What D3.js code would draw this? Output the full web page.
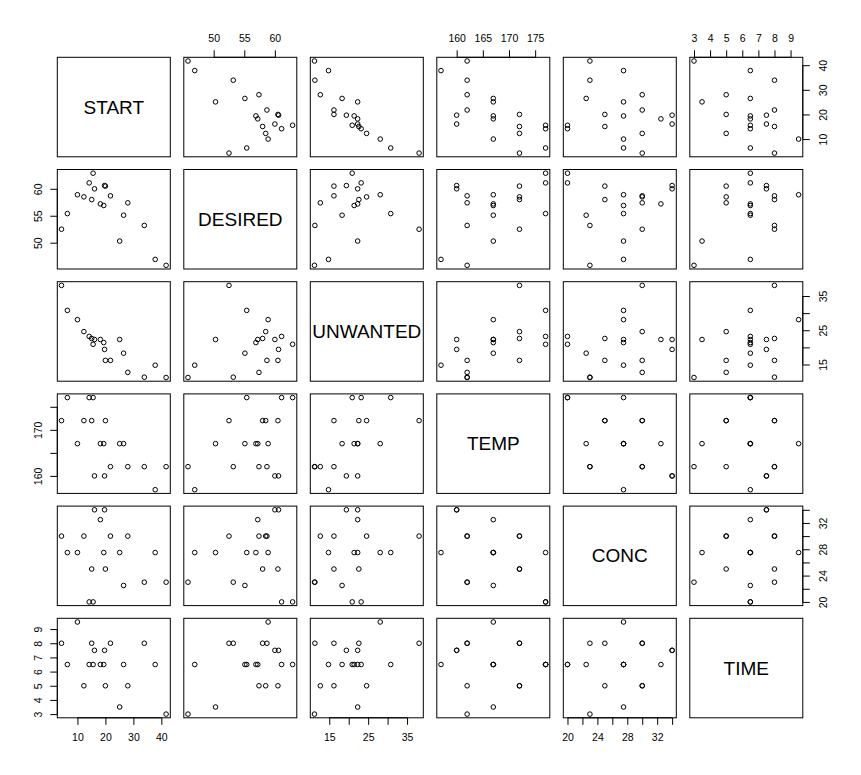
<!DOCTYPE html>
<html><head><meta charset="utf-8">
<script src="https://cdn.jsdelivr.net/npm/d3@7"></script>
<style>
body{margin:0;background:#fff}
text{font-family:"Liberation Sans",Arial,sans-serif;fill:#000}
</style>
</head><body>
<svg id="c" width="861" height="775"></svg>
<script>
const variables = ["START","DESIRED","UNWANTED","TEMP","CONC","TIME"];
const start    = [4.3, 6.4, 10.0, 12.3, 14.2, 15.1, 15.6, 16.1, 18.2, 19.4, 19.7, 20.0, 21.8, 25.1, 26.5, 28.0, 33.9, 37.8, 41.7];
const desired  = [52.5, 55.4, 58.9, 58.5, 61.1, 58.0, 62.9, 60.0, 57.2, 56.9, 60.6, 60.5, 58.7, 50.3, 55.1, 57.4, 53.2, 46.9, 45.8];
const unwanted = [38.1, 30.8, 28.1, 24.6, 23.2, 22.6, 20.9, 22.3, 22.3, 21.4, 19.4, 16.2, 16.2, 22.3, 18.3, 12.7, 11.3, 14.8, 11.2];
const temp     = [172, 177, 167, 172, 177, 172, 177, 160, 167, 167, 160, 172, 162, 167, 167, 162, 162, 157, 162];
const conc     = [30, 27.5, 27.5, 30, 20, 25, 20, 34, 32.5, 27.5, 34, 25, 30, 27.5, 22.5, 30, 23, 27.5, 23];
const time     = [8, 6.5, 9.5, 5, 6.5, 8, 6.5, 7.5, 6.5, 6.5, 7.5, 5, 8, 3.5, 6.5, 5, 8, 6.5, 3];

const startTicks    = [10,20,30,40];
const desiredTicks  = [50,55,60];
const unwantedTicks = [15,20,25,30,35];
const tempTicks     = [160,165,170,175];
const concTicks     = [20,22,24,26,28,30,32,34];
const timeTicks     = [3,4,5,6,7,8,9];

const topLabels    = {1:[50,55,60], 3:[160,165,170,175], 5:[3,4,5,6,7,8,9]};
const bottomLabels = {0:[10,20,30,40], 2:[15,25,35], 4:[20,24,28,32]};
const leftLabels   = {1:[50,55,60], 3:[160,170], 5:[3,4,5,6,7,8,9]};
const rightLabels  = {0:[10,20,30,40], 2:[15,25,35], 4:[20,24,28,32]};

const series = [start, desired, unwanted, temp, conc, time];
const ticks = [startTicks, desiredTicks, unwantedTicks, tempTicks, concTicks, timeTicks];

const left0 = 57.3, top0 = 57.3, pw = 113, ph = 99.5, stepX = 126.5, stepY = 112.2;
const n = variables.length;

function padded(arr){
  const [a,b] = d3.extent(arr); const p = (b-a)*0.04; return [a-p, b+p];
}
const xs = series.map(s => d3.scaleLinear().domain(padded(s)).range([0, pw]));
const ys = series.map(s => d3.scaleLinear().domain(padded(s)).range([ph, 0]));

const svg = d3.select("#c");
const fs = 10.5;

for (let i = 0; i < n; i++) {
  for (let j = 0; j < n; j++) {
    const gx = left0 + j*stepX, gy = top0 + i*stepY;
    const g = svg.append("g").attr("transform", `translate(${gx},${gy})`);
    g.append("rect").attr("x",0).attr("y",0).attr("width",pw).attr("height",ph)
      .attr("fill","none").attr("stroke","#000").attr("stroke-width",1);
    if (i === j) {
      g.append("text").attr("x", pw/2).attr("y", ph/2).attr("text-anchor","middle")
        .attr("dominant-baseline","central").style("font-size","19px").text(variables[i]);
    } else {
      g.selectAll("circle").data(d3.range(series[i].length)).join("circle")
        .attr("cx", k => xs[j](series[j][k])).attr("cy", k => ys[i](series[i][k]))
        .attr("r", 2.3).attr("fill","none").attr("stroke","#000").attr("stroke-width",1);
    }
  }
}

function fmt(labels){ return d => labels.includes(d) ? String(d) : ""; }
function finish(ax, vertical, offset, scale, tv){
  ax.select(".domain").remove();
  ax.selectAll(".tick line").attr("stroke","#000");
  ax.selectAll("text").style("font-size", fs+"px").attr("fill","#000");
  const t = tv;
  if (vertical) {
    ax.append("line").attr("x1",0).attr("x2",0).attr("y1",scale(t[0])).attr("y2",scale(t[t.length-1])).attr("stroke","#000");
    ax.selectAll(".tick text").attr("x",null).attr("dy",null).attr("text-anchor","middle")
      .attr("dominant-baseline","central").attr("transform",`translate(${offset},0) rotate(-90)`);
  } else {
    ax.append("line").attr("y1",0).attr("y2",0).attr("x1",scale(t[0])).attr("x2",scale(t[t.length-1])).attr("stroke","#000");
    ax.selectAll(".tick text").attr("y",offset).attr("dy",null).attr("dominant-baseline","central");
  }
}

// top axes
for (const j of Object.keys(topLabels).map(Number)) {
  const ax = svg.append("g").attr("transform", `translate(${left0 + j*stepX},${top0})`)
    .call(d3.axisTop(xs[j]).tickValues(ticks[j]).tickSize(7).tickFormat(fmt(topLabels[j])));
  finish(ax, false, -19, xs[j], ticks[j]);
}
// bottom axes
for (const j of Object.keys(bottomLabels).map(Number)) {
  const ax = svg.append("g").attr("transform", `translate(${left0 + j*stepX},${top0 + (n-1)*stepY + ph})`)
    .call(d3.axisBottom(xs[j]).tickValues(ticks[j]).tickSize(7).tickFormat(fmt(bottomLabels[j])));
  finish(ax, false, 19.5, xs[j], ticks[j]);
}
// left axes
for (const i of Object.keys(leftLabels).map(Number)) {
  const ax = svg.append("g").attr("transform", `translate(${left0},${top0 + i*stepY})`)
    .call(d3.axisLeft(ys[i]).tickValues(ticks[i]).tickSize(7).tickFormat(fmt(leftLabels[i])));
  finish(ax, true, -19, ys[i], ticks[i]);
}
// right axes
for (const i of Object.keys(rightLabels).map(Number)) {
  const ax = svg.append("g").attr("transform", `translate(${left0 + (n-1)*stepX + pw},${top0 + i*stepY})`)
    .call(d3.axisRight(ys[i]).tickValues(ticks[i]).tickSize(7).tickFormat(fmt(rightLabels[i])));
  finish(ax, true, 20, ys[i], ticks[i]);
}
</script>
</body></html>
